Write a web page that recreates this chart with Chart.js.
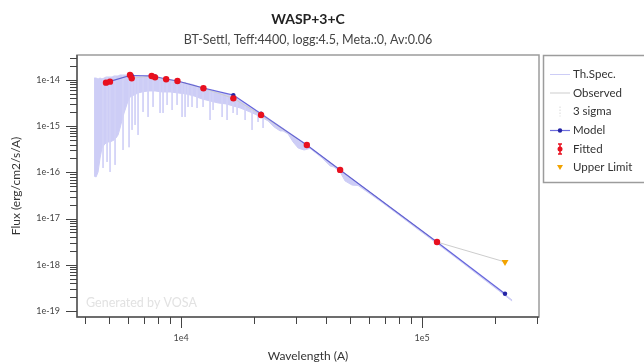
<!DOCTYPE html>
<html><head><meta charset="utf-8">
<script src="https://cdn.jsdelivr.net/npm/chart.js@4.4.0/dist/chart.umd.min.js"></script>
<style>html,body{margin:0;padding:0;background:#fff;}canvas{display:block;}</style>
</head><body>
<canvas id="c" width="644" height="364"></canvas>
<script>
const TITLE = 'WASP+3+C';
const SUBTITLE = 'BT-Settl, Teff:4400, logg:4.5, Meta.:0, Av:0.06';
const X_TITLE = 'Wavelength (A)';
const Y_TITLE = 'Flux (erg/cm2/s/A)';
const WATERMARK = 'Generated by VOSA';
const LEGEND_LABELS = ['Th.Spec.', 'Observed', '3 sigma', 'Model', 'Fitted', 'Upper Limit'];

// Photometry (fitted points)
const fitWave = [4880, 5070, 6140, 6240, 7550, 7800, 8670, 9660, 12380, 16480, 21470, 33250, 45700, 115300];
const fitFlux = [8.75e-15, 9.2e-15, 1.28e-14, 1.09e-14, 1.22e-14, 1.14e-14, 1.04e-14, 9.5e-15, 6.6e-15, 4.0e-15, 1.75e-15, 3.9e-16, 1.13e-16, 3.1e-18];
const fitErr  = [3e-16, 3e-16, 8e-16, 4e-16, 4e-16, 3e-16, 3e-16, 3e-16, 2e-16, 2e-16, 8e-17, 1.2e-17, 5e-18, 2e-19];

// Upper limit
const ulWave = [220800];
const ulFlux = [1.15e-18];

// Model synthetic photometry
const modelWave = [4880, 5070, 6140, 6240, 7550, 7800, 8670, 9660, 12380, 16480, 21470, 33250, 45700, 115300, 220800];
const modelFlux = [8.6e-15, 9.3e-15, 1.25e-14, 1.25e-14, 1.22e-14, 1.19e-14, 1.05e-14, 9.5e-15, 6.7e-15, 4.7e-15, 1.85e-15, 3.9e-16, 1.13e-16, 3.1e-18, 2.35e-19];

// Theoretical spectrum: upper and lower envelope of the dense line forest
const specWave = [4355, 4440, 4525, 4613, 4700, 4792, 4884, 4977, 5074, 5172,
  5272, 5374, 5478, 5583, 5691, 5801, 5913, 6026, 6142, 6383,
  6631, 6890, 7296, 7798, 8340, 9004, 9718, 10490, 11320, 12220,
  13190, 14240, 15370, 16440,
  17580, 19340, 21470, 22960, 24320, 25750, 26500, 27800, 29150, 30590,
  32390, 34300, 38470, 41530, 43140, 45700, 47900, 51240, 54250, 66950,
  81060, 98100, 115300, 143800, 174100, 210800, 236200];
const specTop = [1.10e-14, 1.10e-14, 1.05e-14, 1.10e-14, 1.05e-14, 1.10e-14, 1.16e-14, 1.16e-14, 1.16e-14, 1.16e-14,
  1.22e-14, 1.22e-14, 1.22e-14, 1.28e-14, 1.28e-14, 1.28e-14, 1.28e-14, 1.28e-14, 1.22e-14, 1.22e-14,
  1.22e-14, 1.16e-14, 1.16e-14, 1.10e-14, 1.05e-14, 1.0e-14, 9.05e-15, 8.6e-15, 7.8e-15, 6.7e-15,
  6.1e-15, 5.5e-15, 4.98e-15, 4.3e-15,
  3.7e-15, 2.67e-15, 1.75e-15, 1.36e-15, 1.12e-15, 9.14e-16, 8.3e-16, 7.1e-16, 6.02e-16, 5.13e-16,
  4.22e-16, 3.41e-16, 2.16e-16, 1.61e-16, 1.38e-16, 1.1e-16, 9.1e-17, 7.05e-17, 5.64e-17, 2.53e-17,
  1.2e-17, 5.66e-18, 3.04e-18, 1.27e-18, 5.9e-19, 2.74e-19, 1.73e-19];
const specLow = [8.36e-17, 7.95e-17, 1.02e-16, 2.05e-16, 3.37e-16, 3.92e-16, 4.33e-16, 4.55e-16, 4.55e-16, 4.78e-16,
  5.03e-16, 5.56e-16, 6.45e-16, 9.14e-16, 1.36e-15, 1.93e-15, 2.6e-15, 3.51e-15, 4.29e-15, 4.73e-15,
  5.23e-15, 5.5e-15, 5.78e-15, 5.78e-15, 5.5e-15, 5.5e-15, 5.23e-15, 4.98e-15, 4.5e-15, 3.88e-15,
  3.51e-15, 3.18e-15, 3.03e-15, 2.74e-15,
  2.48e-15, 2.03e-15, 1.58e-15, 1.3e-15, 9.6e-16, 7.9e-16, 7.9e-16, 6.78e-16, 4.55e-16, 3.37e-16,
  3.05e-16, 3.29e-16, 2.05e-16, 1.38e-16, 1.3e-16, 1.02e-16, 6.52e-17, 5.3e-17, 5.2e-17, 2.4e-17,
  1.14e-17, 5.39e-18, 2.89e-18, 1.21e-18, 5.58e-19, 2.6e-19, 1.64e-19];

// Individual deep absorption lines of the spectrum
const lineWave = [4746, 4932, 5074, 5323, 5745, 6085, 6262, 6444, 6631, 6955, 7296, 7653, 8182, 8420, 8750, 9178, 9625,
  10096, 10390, 10690, 11105, 11650, 12340, 13190, 13580, 14800, 15520, 16440, 17080, 18440, 19700, 20870, 21890];
const lineTop = [1.10e-14, 1.16e-14, 1.16e-14, 1.22e-14, 1.28e-14, 1.28e-14, 1.22e-14, 1.22e-14, 1.22e-14, 1.16e-14, 1.16e-14,
  1.10e-14, 1.05e-14, 1.05e-14, 1.05e-14, 1.0e-14, 9.5e-15, 9.05e-15, 9.05e-15, 8.6e-15, 8.2e-15, 7.4e-15, 6.7e-15,
  6.1e-15, 6.1e-15, 5.5e-15, 4.98e-15, 4.3e-15, 4.07e-15, 3.18e-15, 2.48e-15, 2.03e-15, 1.66e-15];
const lineBottom = [1.25e-16, 1.68e-16, 1.02e-16, 1.45e-16, 3.05e-16, 3.5e-16, 8.3e-16, 1.06e-15, 6.45e-16, 2.03e-15, 1.58e-15,
  2.6e-15, 1.93e-15, 1.93e-15, 2.88e-15, 2.24e-15, 2.88e-15, 1.58e-15, 1.58e-15, 2.6e-15, 2.6e-15, 2.48e-15, 2.6e-15,
  1.36e-15, 2.24e-15, 1.58e-15, 1.36e-15, 1.93e-15, 1.75e-15, 1.36e-15, 8.3e-16, 1.23e-15, 9.14e-16];

// Axis ranges and ticks
const X_MIN = 3700, X_MAX = 305500;
const Y_MIN = 7.4e-20, Y_MAX = 3.47e-14;
const xTickValues = [4000, 5000, 6000, 7000, 8000, 9000, 10000, 20000, 30000, 40000, 50000, 60000, 70000, 80000, 90000, 100000, 200000, 300000];
const xTickLabels = {10000: '1e4', 100000: '1e5'};
const yDecades = [-19, -18, -17, -16, -15, -14];
const yMantissas = [1, 2, 3, 4, 5, 6, 7, 8, 9];
const yTickLabels = {'-19': '1e-19', '-18': '1e-18', '-17': '1e-17', '-16': '1e-16', '-15': '1e-15', '-14': '1e-14'};

const FONT = 'Lato, "Open Sans", sans-serif';
const SPEC_COLOR = '#cdcdf6';
const SPEC_LINE = '#d2d2f7';
const MODEL_LINE = 'rgba(60,60,210,0.75)';
const MODEL_PT = '#2424a6';
const FIT_COLOR = '#e8101f';
const UL_COLOR = '#f2a300';
const OBS_COLOR = '#cdcdcd';

const yTickValues = [];
yDecades.forEach(e => yMantissas.forEach(m => { const v = m * Math.pow(10, e); if (v >= Y_MIN && v <= Y_MAX) yTickValues.push({v, m, e}); }));
yTickValues.push({v: 2e-14, m: 2, e: -14}, {v: 3e-14, m: 3, e: -14});

const pts = (xs, ys) => xs.map((x, i) => ({x, y: ys[i]}));
const spikeData = [];
lineWave.forEach((w, i) => { spikeData.push({x: w, y: lineTop[i]}, {x: w, y: lineBottom[i]}, {x: w, y: null}); });
const obsWave = fitWave.concat(ulWave);
const obsFlux = fitFlux.concat(ulFlux);

function isMajorX(v) { return xTickLabels[v] !== undefined; }

const decor = {
  id: 'decor',
  beforeDraw(chart) {
    const c = chart.ctx;
    c.save(); c.fillStyle = '#fff'; c.fillRect(0, 0, chart.width, chart.height); c.restore();
  },
  beforeDatasetsDraw(chart) {
    const c = chart.ctx;
    c.save();
    c.font = '12.5px ' + FONT; c.fillStyle = '#e2e2e2'; c.textAlign = 'left'; c.textBaseline = 'middle';
    c.fillText(WATERMARK, 86, 303);
    c.restore();
  },
  afterDatasetDraw(chart, args) {
    if (chart.data.datasets[args.index].label !== 'Model') return;
    const c = chart.ctx, xs = chart.scales.x, ys = chart.scales.y;
    c.save();
    c.strokeStyle = FIT_COLOR; c.lineWidth = 1.5;
    fitWave.forEach((w, i) => {
      const px = xs.getPixelForValue(w);
      const y1 = ys.getPixelForValue(fitFlux[i] - fitErr[i]);
      const y2 = ys.getPixelForValue(fitFlux[i] + fitErr[i]);
      c.beginPath();
      c.moveTo(px, y1); c.lineTo(px, y2);
      c.moveTo(px - 2, y1); c.lineTo(px + 2, y1);
      c.moveTo(px - 2, y2); c.lineTo(px + 2, y2);
      c.stroke();
    });
    c.restore();
  },
  afterDraw(chart) {
    const c = chart.ctx, a = chart.chartArea, xs = chart.scales.x, ys = chart.scales.y;
    c.save();
    // frame
    c.strokeStyle = '#9c9c9c'; c.lineWidth = 1.5;
    c.strokeRect(a.left, a.top, a.right - a.left, a.bottom - a.top);
    c.strokeStyle = '#555'; c.lineWidth = 1.5;
    c.beginPath(); c.moveTo(a.left, a.top); c.lineTo(a.left, a.bottom); c.lineTo(a.right, a.bottom); c.stroke();
    // tick marks
    c.strokeStyle = '#444'; c.lineWidth = 1;
    c.beginPath();
    yTickValues.forEach(t => {
      const py = Math.round(ys.getPixelForValue(t.v)) + 0.5;
      const len = t.m === 1 ? 11 : 7;
      c.moveTo(a.left - len, py); c.lineTo(a.left, py);
    });
    xTickValues.forEach(v => {
      const px = Math.round(xs.getPixelForValue(v)) + 0.5;
      const len = isMajorX(v) ? 11 : 7;
      c.moveTo(px, a.bottom); c.lineTo(px, a.bottom + len);
    });
    c.stroke();
    // titles
    c.fillStyle = '#222'; c.textAlign = 'center'; c.textBaseline = 'middle';
    c.font = 'bold 14px ' + FONT;
    c.fillText(TITLE, (a.left + a.right) / 2, 19);
    c.fillStyle = '#444'; c.font = '12.5px ' + FONT;
    c.fillText(SUBTITLE, (a.left + a.right) / 2, 40);
    c.fillStyle = '#333'; c.font = '12px ' + FONT;
    c.fillText(X_TITLE, (a.left + a.right) / 2, 356);
    c.save(); c.translate(16, (a.top + a.bottom) / 2); c.rotate(-Math.PI / 2);
    c.fillText(Y_TITLE, 0, 0); c.restore();
    // legend
    c.strokeStyle = '#9c9c9c'; c.lineWidth = 1.5;
    c.strokeRect(543.5, 55.5, 110, 127);
    const ly = [74.5, 93, 111.5, 130.5, 149, 167.5];
    c.font = '11.5px ' + FONT; c.fillStyle = '#333'; c.textAlign = 'left';
    LEGEND_LABELS.forEach((lab, i) => c.fillText(lab, 573, ly[i]));
    c.lineWidth = 1;
    c.strokeStyle = SPEC_COLOR; c.beginPath(); c.moveTo(550, ly[0]); c.lineTo(570, ly[0]); c.stroke();
    c.strokeStyle = OBS_COLOR; c.beginPath(); c.moveTo(550, ly[1]); c.lineTo(570, ly[1]); c.stroke();
    c.strokeStyle = '#d8d8d8'; c.setLineDash([1.5, 1.5]); c.beginPath(); c.moveTo(560, ly[2] - 5); c.lineTo(560, ly[2] + 5); c.stroke(); c.setLineDash([]);
    c.strokeStyle = MODEL_LINE; c.lineWidth = 1.2; c.beginPath(); c.moveTo(550, ly[3]); c.lineTo(570, ly[3]); c.stroke();
    c.fillStyle = MODEL_PT; c.beginPath(); c.arc(560, ly[3], 2.2, 0, Math.PI * 2); c.fill();
    c.strokeStyle = FIT_COLOR; c.lineWidth = 1.5; c.beginPath();
    c.moveTo(560, ly[4] - 5); c.lineTo(560, ly[4] + 5); c.moveTo(558, ly[4] - 5); c.lineTo(562, ly[4] - 5); c.moveTo(558, ly[4] + 5); c.lineTo(562, ly[4] + 5); c.stroke();
    c.fillStyle = FIT_COLOR; c.beginPath(); c.arc(560, ly[4], 2.5, 0, Math.PI * 2); c.fill();
    c.fillStyle = UL_COLOR; c.beginPath(); c.moveTo(557, ly[5] - 2.5); c.lineTo(563, ly[5] - 2.5); c.lineTo(560, ly[5] + 2.5); c.closePath(); c.fill();
    c.restore();
  }
};

new Chart(document.getElementById('c').getContext('2d'), {
  type: 'line',
  data: {
    datasets: [
      {label: 'Upper Limit', data: pts(ulWave, ulFlux), showLine: false, pointStyle: 'triangle', rotation: 180,
        pointRadius: 4, backgroundColor: UL_COLOR, borderColor: UL_COLOR, borderWidth: 0},
      {label: 'Fitted', data: pts(fitWave, fitFlux), showLine: false, pointRadius: 3.2,
        backgroundColor: FIT_COLOR, borderColor: FIT_COLOR, borderWidth: 0},
      {label: 'Model', data: pts(modelWave, modelFlux), borderColor: MODEL_LINE, borderWidth: 1.2,
        pointRadius: 2.2, pointBackgroundColor: MODEL_PT, pointBorderColor: MODEL_PT, pointBorderWidth: 0, tension: 0},
      {label: 'Observed', data: pts(obsWave, obsFlux), borderColor: OBS_COLOR, borderWidth: 1, pointRadius: 0, tension: 0},
      {label: 'Th.Spec. lines', data: spikeData, borderColor: SPEC_LINE, borderWidth: 1, pointRadius: 0, spanGaps: false, tension: 0},
      {label: 'Th.Spec.', data: pts(specWave, specTop), borderColor: SPEC_COLOR, backgroundColor: SPEC_COLOR,
        borderWidth: 1, pointRadius: 0, fill: '+1', tension: 0},
      {label: 'Th.Spec. low', data: pts(specWave, specLow), borderColor: SPEC_COLOR, borderWidth: 1, pointRadius: 0, fill: false, tension: 0}
    ]
  },
  options: {
    responsive: false, animation: false, devicePixelRatio: 1,
    layout: {padding: {top: 55, right: 105, left: 0, bottom: 0}},
    plugins: {legend: {display: false}, title: {display: false}, tooltip: {enabled: false}},
    scales: {
      x: {
        type: 'logarithmic', position: 'bottom', min: X_MIN, max: X_MAX,
        afterBuildTicks: s => { s.ticks = xTickValues.map(v => ({value: v})); },
        afterFit: s => { s.height = 47; },
        grid: {display: false, drawTicks: false, drawOnChartArea: false},
        border: {display: false},
        ticks: {autoSkip: false, maxRotation: 0, minRotation: 0, padding: 16, color: '#444',
          font: {family: FONT, size: 9},
          callback: v => xTickLabels[v] !== undefined ? xTickLabels[v] : ''}
      },
      y: {
        type: 'logarithmic', position: 'left', min: Y_MIN, max: Y_MAX,
        afterBuildTicks: s => { s.ticks = yTickValues.map(t => ({value: t.v})); },
        afterFit: s => { s.width = 77; },
        grid: {display: false, drawTicks: false, drawOnChartArea: false},
        border: {display: false},
        ticks: {autoSkip: false, padding: 17, color: '#444', font: {family: FONT, size: 9},
          callback: (v, i) => { const t = yTickValues[i]; return (t && t.m === 1) ? yTickLabels[String(t.e)] : ''; }}
      }
    }
  },
  plugins: [decor]
});
</script>
</body></html>
